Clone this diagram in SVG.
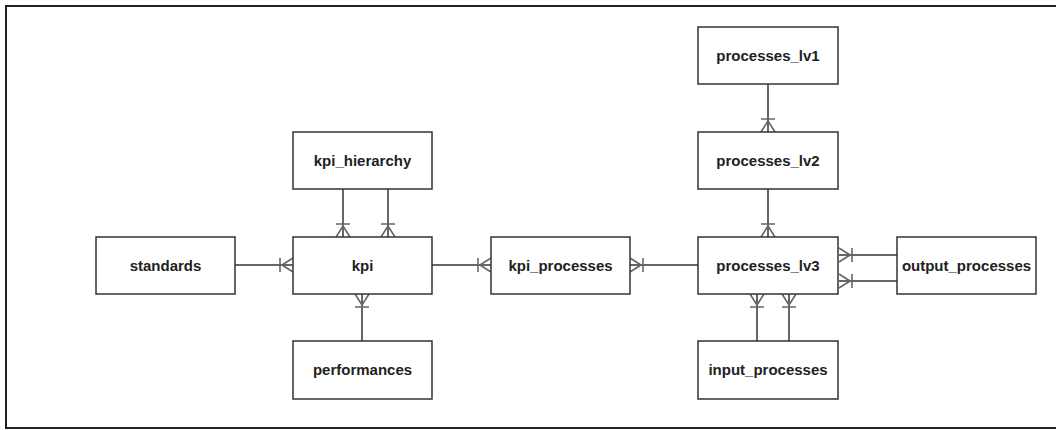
<svg xmlns="http://www.w3.org/2000/svg" width="1056" height="430" viewBox="0 0 1056 430">
<style>
.box{fill:#fff;stroke:#333;stroke-width:1.5}
.lbl{font-family:"Liberation Sans",Arial,sans-serif;font-weight:bold;font-size:15px;fill:#222;text-anchor:middle}
.conn{fill:none;stroke:#666;stroke-width:2}
.frame{fill:none;stroke:#222;stroke-width:2}
</style>
<defs>
<marker id="crow" markerUnits="userSpaceOnUse" markerWidth="20" markerHeight="20" refX="16" refY="8" orient="auto" overflow="visible">
<path d="M5,8 L16,1 M5,8 L16,15 M3,1 L3,15" fill="none" stroke="#666" stroke-width="1.6"/>
</marker>
</defs>
<rect width="1056" height="430" fill="#fff"/>
<path class="frame" d="M1056,6 L6,6 L6,428 L1056,428"/>
<g id="connectors">
<path class="conn" d="M235,265 H293" marker-end="url(#crow)"/>
<path class="conn" d="M432,265 H491" marker-end="url(#crow)"/>
<path class="conn" d="M698,265 H630" marker-end="url(#crow)"/>
<path class="conn" d="M343,189 V237" marker-end="url(#crow)"/>
<path class="conn" d="M388,189 V237" marker-end="url(#crow)"/>
<path class="conn" d="M362,341 V294" marker-end="url(#crow)"/>
<path class="conn" d="M768,84 V132" marker-end="url(#crow)"/>
<path class="conn" d="M768,189 V237" marker-end="url(#crow)"/>
<path class="conn" d="M897,255 H839" marker-end="url(#crow)"/>
<path class="conn" d="M897,281 H839" marker-end="url(#crow)"/>
<path class="conn" d="M757,341 V294" marker-end="url(#crow)"/>
<path class="conn" d="M789,341 V294" marker-end="url(#crow)"/>
</g>
<g id="standards"><rect class="box" x="96" y="237" width="139" height="57"/><text class="lbl" x="165.5" y="271">standards</text></g>
<g id="kpi"><rect class="box" x="293" y="237" width="139" height="57"/><text class="lbl" x="362.5" y="271">kpi</text></g>
<g id="kpi_hierarchy"><rect class="box" x="293" y="132" width="139" height="57"/><text class="lbl" x="362.5" y="166">kpi_hierarchy</text></g>
<g id="performances"><rect class="box" x="293" y="341" width="139" height="58"/><text class="lbl" x="362.5" y="375">performances</text></g>
<g id="kpi_processes"><rect class="box" x="491" y="237" width="139" height="57"/><text class="lbl" x="560.5" y="271">kpi_processes</text></g>
<g id="processes_lv1"><rect class="box" x="698" y="27" width="140" height="57"/><text class="lbl" x="768" y="61">processes_lv1</text></g>
<g id="processes_lv2"><rect class="box" x="698" y="132" width="140" height="57"/><text class="lbl" x="768" y="166">processes_lv2</text></g>
<g id="processes_lv3"><rect class="box" x="698" y="237" width="140" height="57"/><text class="lbl" x="768" y="271">processes_lv3</text></g>
<g id="input_processes"><rect class="box" x="698" y="341" width="140" height="58"/><text class="lbl" x="768" y="375">input_processes</text></g>
<g id="output_processes"><rect class="box" x="897" y="237" width="139" height="57"/><text class="lbl" x="966.5" y="271">output_processes</text></g>
</svg>
